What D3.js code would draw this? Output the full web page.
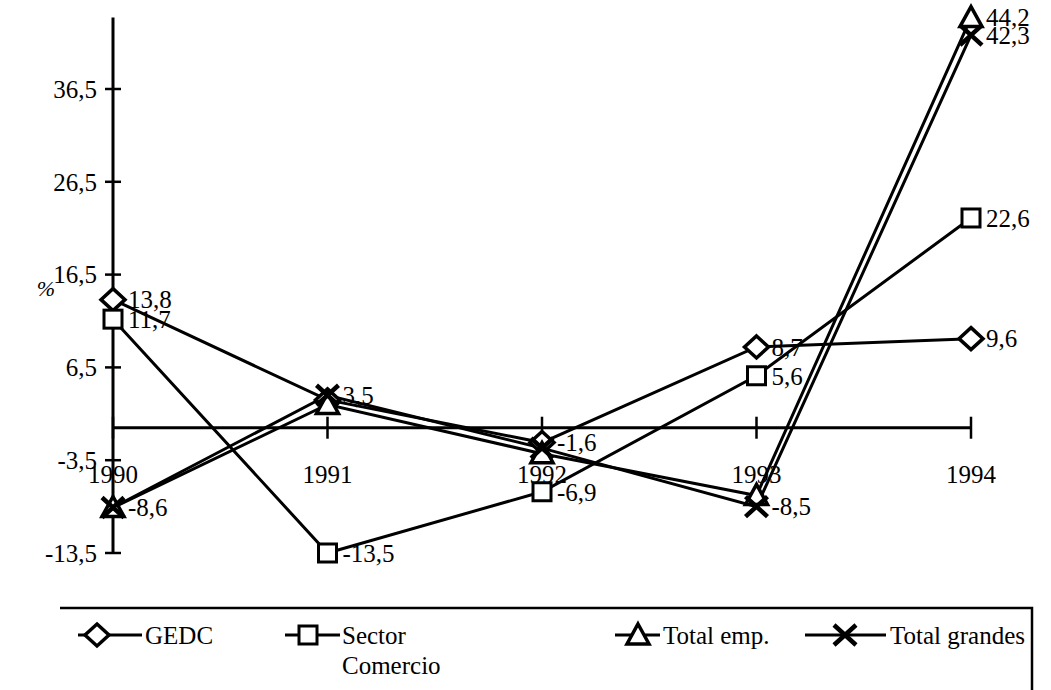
<!DOCTYPE html>
<html lang="es">
<head>
<meta charset="utf-8">
<title>GEDC</title>
<script src="https://d3js.org/d3.v7.min.js"></script>
<style>
  body { margin: 0; background: #fff; }
  svg text { font-family: "Liberation Serif", Tinos, "Times New Roman", "DejaVu Serif", serif; fill: #000; }
</style>
</head>
<body>
<svg width="1051" height="690"></svg>
<script>
var years = ["1990", "1991", "1992", "1993", "1994"];
var yTicks = [36.5, 26.5, 16.5, 6.5, -3.5, -13.5];

var gedc = [13.8, 3.0, -1.6, 8.7, 9.6];
var sector = [11.7, -13.5, -6.9, 5.6, 22.6];
var totalEmp = [-8.6, 2.5, -2.8, -7.3, 44.2];
var totalGrandes = [-8.6, 3.5, -2.2, -8.5, 42.3];

// which points carry a value label
var gedcLabels = [0, 2, 3, 4];
var sectorLabels = [0, 1, 2, 3, 4];
var empLabels = [4];
var grandesLabels = [0, 1, 3, 4];

var series = [
  {name: "GEDC", values: gedc, shown: gedcLabels, shape: "diamond"},
  {name: "Sector Comercio", values: sector, shown: sectorLabels, shape: "square"},
  {name: "Total emp.", values: totalEmp, shown: empLabels, shape: "triangle"},
  {name: "Total grandes", values: totalGrandes, shown: grandesLabels, shape: "cross"}
];

var svg = d3.select("svg");
var serif = "'Liberation Serif', Tinos, 'Times New Roman', 'DejaVu Serif', serif";
var fmt = function(v) { return String(v).replace(".", ","); };

var x = d3.scalePoint().domain(years).range([113, 971]);
var y = d3.scaleLinear().domain([-13.5, 36.5]).range([553, 89]);
var x0 = x(years[0]);

// y axis
svg.append("line")
    .attr("x1", x0).attr("x2", x0)
    .attr("y1", y(44.2)).attr("y2", y(-13.5))
    .attr("stroke", "#000").attr("stroke-width", 3);

svg.selectAll(".ytick").data(yTicks).enter().append("line")
    .attr("class", "ytick")
    .attr("x1", x0 - 8).attr("x2", x0 + 8)
    .attr("y1", function(d) { return y(d); })
    .attr("y2", function(d) { return y(d); })
    .attr("stroke", "#000").attr("stroke-width", 2.5);

svg.selectAll(".ylab").data(yTicks).enter().append("text")
    .attr("class", "ylab")
    .attr("x", 97)
    .attr("y", function(d) { return y(d); })
    .attr("dy", "0.35em")
    .attr("text-anchor", "end")
    .attr("font-family", serif)
    .attr("font-size", 25)
    .text(fmt);

svg.append("text")
    .attr("x", 46).attr("y", 288)
    .attr("dy", "0.35em")
    .attr("text-anchor", "middle")
    .attr("font-family", serif)
    .attr("font-size", 22)
    .attr("font-style", "italic")
    .text("%");

// x axis at zero
svg.append("line")
    .attr("x1", x0).attr("x2", x(years[4]))
    .attr("y1", y(0)).attr("y2", y(0))
    .attr("stroke", "#000").attr("stroke-width", 3);

svg.selectAll(".xtick").data(years).enter().append("line")
    .attr("class", "xtick")
    .attr("x1", function(d) { return x(d); })
    .attr("x2", function(d) { return x(d); })
    .attr("y1", y(0) - 11).attr("y2", y(0) + 11)
    .attr("stroke", "#000").attr("stroke-width", 2.5);

svg.selectAll(".xlab").data(years).enter().append("text")
    .attr("class", "xlab")
    .attr("x", function(d) { return x(d); })
    .attr("y", y(0) + 47)
    .attr("dy", "0.35em")
    .attr("text-anchor", "middle")
    .attr("font-family", serif)
    .attr("font-size", 25)
    .text(function(d) { return d; });

function drawMarker(g, shape, cx, cy) {
  if (shape === "diamond") {
    g.append("path")
      .attr("d", "M" + cx + "," + (cy - 11) + "L" + (cx + 12) + "," + cy + "L" + cx + "," + (cy + 11) + "L" + (cx - 12) + "," + cy + "Z")
      .attr("fill", "#fff").attr("stroke", "#000").attr("stroke-width", 3.5);
  } else if (shape === "square") {
    g.append("rect")
      .attr("x", cx - 9).attr("y", cy - 9).attr("width", 18).attr("height", 18)
      .attr("fill", "#fff").attr("stroke", "#000").attr("stroke-width", 3);
  } else if (shape === "triangle") {
    g.append("path")
      .attr("d", "M" + cx + "," + (cy - 11) + "L" + (cx + 11) + "," + (cy + 9) + "L" + (cx - 11) + "," + (cy + 9) + "Z")
      .attr("fill", "#fff").attr("stroke", "#000").attr("stroke-width", 3.5);
  } else {
    g.append("path")
      .attr("d", "M" + (cx - 11) + "," + (cy - 10) + "L" + (cx + 11) + "," + (cy + 10) + "M" + (cx + 11) + "," + (cy - 10) + "L" + (cx - 11) + "," + (cy + 10))
      .attr("fill", "none").attr("stroke", "#000").attr("stroke-width", 4.5);
  }
}

var line = d3.line()
    .x(function(d, i) { return x(years[i]); })
    .y(function(d) { return y(d); });

var lineLayer = svg.append("g");
var markLayer = svg.append("g");
var labLayer = svg.append("g");

series.forEach(function(s) {
  lineLayer.append("path")
    .datum(s.values)
    .attr("d", line)
    .attr("fill", "none")
    .attr("stroke", "#000")
    .attr("stroke-width", 3);
  s.values.forEach(function(v, i) {
    drawMarker(markLayer, s.shape, x(years[i]), y(v));
  });
  labLayer.selectAll(null).data(s.shown).enter().append("text")
    .attr("x", function(i) { return x(years[i]) + 15; })
    .attr("y", function(i) { return y(s.values[i]); })
    .attr("dy", "0.35em")
    .attr("font-family", serif)
    .attr("font-size", 25)
    .text(function(i) { return fmt(s.values[i]); });
});

// legend
var lg = svg.append("g");
lg.append("path")
    .attr("d", "M60,608H1032V690")
    .attr("fill", "none").attr("stroke", "#000").attr("stroke-width", 2.5);

var legendPos = [
  {mx: 97, l1: 78, l2: 142, tx: 145},
  {mx: 308, l1: 285, l2: 340, tx: 342},
  {mx: 638, l1: 615, l2: 660, tx: 663},
  {mx: 845, l1: 805, l2: 886, tx: 890}
];
var ly = 635;
series.forEach(function(s, i) {
  var p = legendPos[i];
  lg.append("line")
    .attr("x1", p.l1).attr("x2", p.l2).attr("y1", ly).attr("y2", ly)
    .attr("stroke", "#000").attr("stroke-width", 3);
  drawMarker(lg, s.shape, p.mx, ly);
  var words = s.name === "Sector Comercio" ? ["Sector", "Comercio"] : [s.name];
  words.forEach(function(w, k) {
    lg.append("text")
      .attr("x", p.tx).attr("y", ly + k * 30)
      .attr("dy", "0.35em")
      .attr("font-family", serif)
      .attr("font-size", 25)
      .text(w);
  });
});
</script>
</body>
</html>
